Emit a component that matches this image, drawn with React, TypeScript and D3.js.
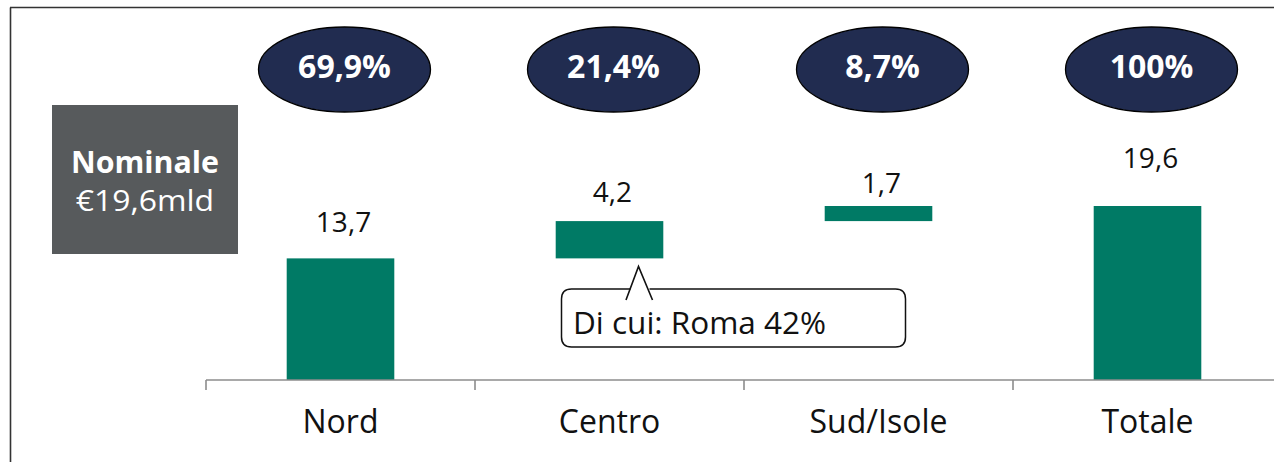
import React from "react";
import * as d3 from "d3";

const categories = ["Nord", "Centro", "Sud/Isole", "Totale"];
const values = [13.7, 4.2, 1.7, 19.6];
const isTotal = [false, false, false, true];
const shares = [69.9, 21.4, 8.7, 100];
const boxTitle = "Nominale";
const boxValue = "€19,6mld";
const calloutText = "Di cui: Roma 42%";

// layout (not data)
const W = 1274;
const H = 462;
const labelGap = [26, 19, 13, 38];
const FONT = "'Open Sans', sans-serif";

const fmt = (v: number) => String(v).replace(".", ",");
const fmtPct = (v: number) => (Number.isInteger(v) ? String(v) : v.toFixed(1).replace(".", ",")) + "%";

export default function App() {
  const x = d3.scaleBand<string>().domain(categories).range([206, 1282]).padding(0);
  const y = d3.scaleLinear().domain([0, 19.6]).range([380, 206]);
  const bw = x.bandwidth() * 0.4;

  // waterfall stacking
  let run = 0;
  const bars = categories.map((c, i) => {
    let y0: number, y1: number;
    if (isTotal[i]) {
      y0 = 0;
      y1 = values[i];
    } else {
      y0 = run;
      y1 = run + values[i];
      run = y1;
    }
    return { c, i, y0, y1, cx: (x(c) as number) + x.bandwidth() / 2 };
  });

  const centro = bars[1];
  const apexX = centro.cx + 29;
  const apexY = y(centro.y0) + 8;
  const bx0 = 561.5, bx1 = 905.5, by0 = 289, by1 = 347, r = 10;
  const legL = apexX - 12.5, legR = apexX + 14;
  const gapL = apexX - 8, gapR = apexX + 11;
  const calloutPath = `M${gapR},${by0} L${bx1 - r},${by0} Q${bx1},${by0} ${bx1},${by0 + r} L${bx1},${by1 - r} Q${bx1},${by1} ${bx1 - r},${by1} L${bx0 + r},${by1} Q${bx0},${by1} ${bx0},${by1 - r} L${bx0},${by0 + r} Q${bx0},${by0} ${bx0 + r},${by0} L${gapL},${by0}`;

  const ticks = [...categories.map((c) => x(c) as number)];

  return (
    <svg
      width={W}
      height={H}
      style={{ position: "absolute", left: 0, top: 0, background: "#fff" }}
      fontFamily={FONT}
    >
      <line x1={10.5} y1={7.5} x2={10.5} y2={H} stroke="#333" strokeWidth={1.6} />
      <line x1={10} y1={7.5} x2={W} y2={7.5} stroke="#333" strokeWidth={1.6} />

      {/* Nominale box */}
      <rect x={52} y={105} width={186} height={149} fill="#575A5C" />
      <text
        transform={`translate(145,173) scale(0.98,1)`}
        textAnchor="middle"
        fill="#fff"
        fontWeight={700}
        fontSize={31}
      >
        {boxTitle}
      </text>
      <text
        transform={`translate(145,211) scale(1.1,1)`}
        textAnchor="middle"
        fill="#fff"
        fontSize={29}
      >
        {boxValue}
      </text>

      {/* share ellipses */}
      {bars.map((b) => (
        <g key={"e" + b.c}>
          <ellipse cx={b.cx + 4} cy={69.5} rx={86} ry={42.5} fill="#212C50" stroke="#000" strokeWidth={1.3} />
          <text x={b.cx + 4} y={77.5} textAnchor="middle" fill="#fff" fontWeight={700} fontSize={32}>
            {fmtPct(shares[b.i])}
          </text>
        </g>
      ))}

      {/* bars */}
      {bars.map((b) => (
        <rect
          key={"b" + b.c}
          x={b.cx - bw / 2}
          y={y(b.y1)}
          width={bw}
          height={y(b.y0) - y(b.y1)}
          fill="#007A65"
        />
      ))}

      {/* value labels */}
      {bars.map((b) => (
        <text key={"l" + b.c} x={b.cx + 3} y={y(b.y1) - labelGap[b.i]} textAnchor="middle" fill="#111" fontSize={28}>
          {fmt(values[b.i])}
        </text>
      ))}

      {/* axis */}
      <line x1={206} y1={380} x2={W} y2={380} stroke="#8C8C8C" strokeWidth={1.6} />
      {ticks.map((t, i) => (
        <line key={"t" + i} x1={t} y1={380} x2={t} y2={390} stroke="#8C8C8C" strokeWidth={1.6} />
      ))}
      {bars.map((b) => (
        <text key={"a" + b.c} x={b.cx} y={432.5} textAnchor="middle" fill="#111" fontSize={32}>
          {b.c}
        </text>
      ))}

      {/* callout */}
      <path d={calloutPath} fill="none" stroke="#111" strokeWidth={1.5} />
      <path d={`M${legL},300 L${apexX},${apexY} L${legR},300`} fill="none" stroke="#111" strokeWidth={1.6} />
      <text x={573} y={334} fill="#111" fontSize={31.5}>
        {calloutText}
      </text>
    </svg>
  );
}
